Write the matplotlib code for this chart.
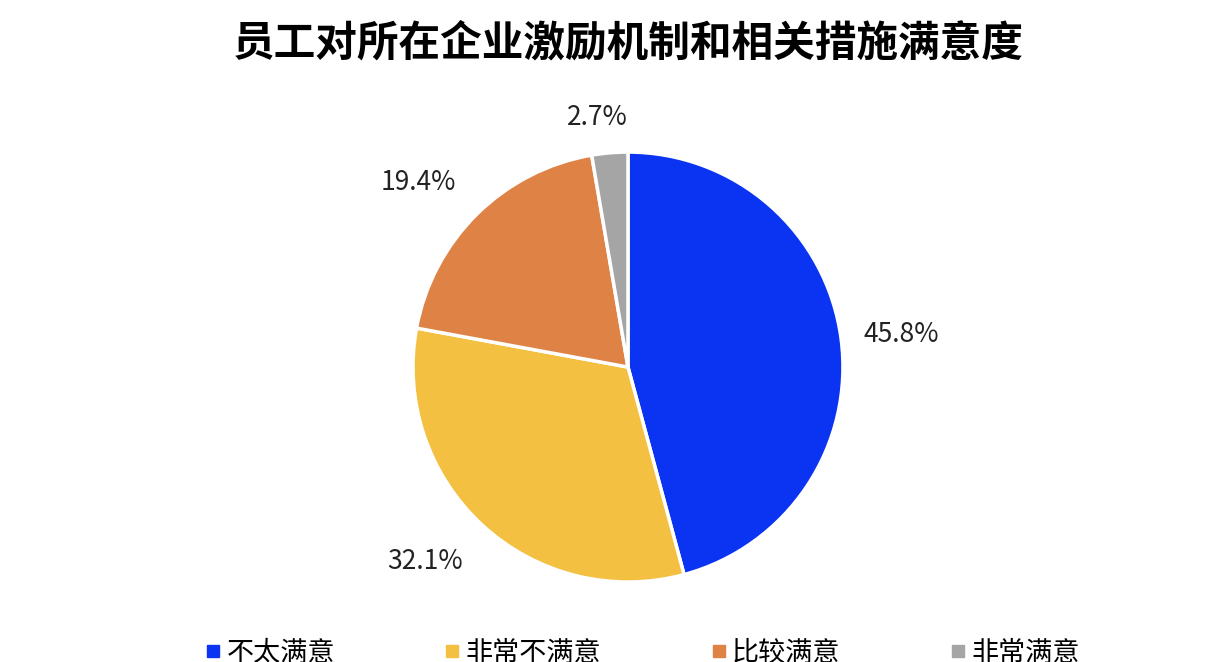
import numpy as np
import matplotlib
matplotlib.use("Agg")
import matplotlib.pyplot as plt
from matplotlib.lines import Line2D

plt.rcParams['font.family'] = ['Noto Sans CJK SC', 'DejaVu Sans']

title = "员工对所在企业激励机制和相关措施满意度"
labels = ["不太满意", "非常不满意", "比较满意", "非常满意"]
values = [45.8, 32.1, 19.4, 2.7]
colors = ["#0B34F2", "#F4C042", "#DF8245", "#A5A5A5"]

# label placement: distance from centre (in radii) and small angle nudge (deg)
label_dist = [1.28, 1.31, 1.30, 1.17]
label_nudge = [-0.7, -3.6, 3.9, 2.2]

fig = plt.figure(figsize=(12.24, 6.62), dpi=100)
ax = fig.add_axes([0.3374, 0.1208, 0.3513, 0.6495])

wedges, _ = ax.pie(values, colors=colors, startangle=90, counterclock=False,
                   radius=1.0, wedgeprops=dict(edgecolor="white", linewidth=2.5))
ax.set_xlim(-1, 1)
ax.set_ylim(-1, 1)
ax.set_aspect("equal")
ax.axis("off")

for w, v, d, n in zip(wedges, values, label_dist, label_nudge):
    ang = np.deg2rad((w.theta1 + w.theta2) / 2 + n)
    ax.text(d * np.cos(ang), d * np.sin(ang), f"{v:.1f}%", ha="center", va="center",
            fontsize=19, color="#222222", clip_on=False)

fig.text(0.513, 0.935, title, ha="center", va="center", fontsize=30, fontweight="bold")

handles = [Line2D([0], [0], marker="s", linestyle="none", markersize=8, color=c) for c in colors]
fig.legend(handles, labels, loc="center", bbox_to_anchor=(0.5257, 0.013), ncol=4, frameon=False,
           fontsize=19.5, handlelength=0.45, handletextpad=0.27, columnspacing=4.1)

fig.savefig("out.png", dpi=100)
plt.close()
